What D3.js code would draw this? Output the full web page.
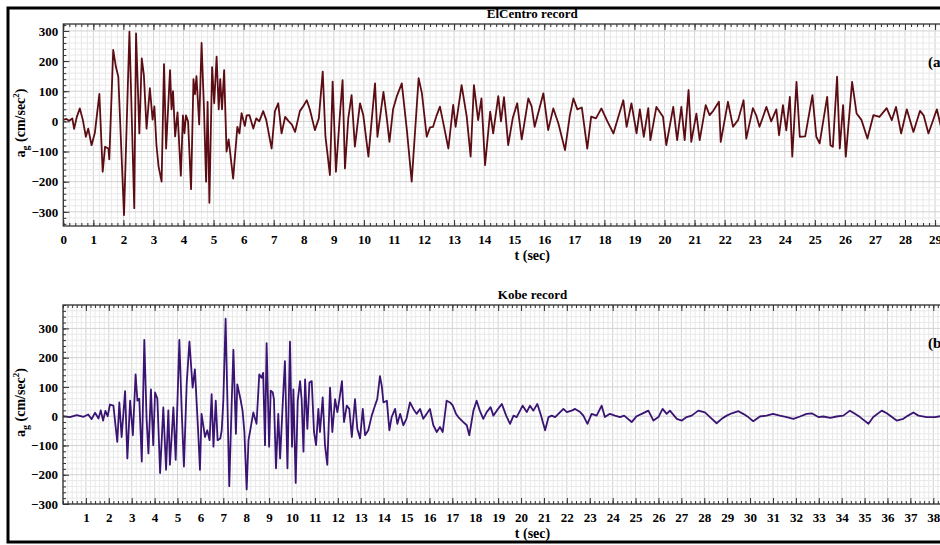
<!DOCTYPE html>
<html>
<head>
<meta charset="utf-8">
<script src="https://cdn.jsdelivr.net/npm/d3@7"></script>
<style>
    body { margin: 0; background: #fff; }
    text { font-family: "Liberation Serif", "Times New Roman", serif; font-weight: bold; fill: #000; }
</style>
</head>
<body>
<div id="chart"></div>
<script>
// ElCentro record: time (s) and ground acceleration (cm/sec^2)
const elcentroTime = [0, 0.1, 0.2, 0.3, 0.36, 0.45, 0.55, 0.65, 0.75, 0.83, 0.94, 1.05, 1.2, 1.31, 1.39, 1.5, 1.53, 1.66, 1.75, 1.83,
    2.02, 2.2, 2.36, 2.42, 2.53, 2.61, 2.68, 2.77, 2.88, 2.97, 3.03, 3.1, 3.17, 3.27, 3.35, 3.42, 3.55, 3.6, 3.65, 3.72,
    3.8, 3.91, 3.98, 4.03, 4.08, 4.15, 4.25, 4.33, 4.38, 4.43, 4.52, 4.6, 4.68, 4.75, 4.8, 4.86, 4.95, 5.02, 5.1, 5.17,
    5.22, 5.28, 5.35, 5.43, 5.5, 5.57, 5.65, 5.79, 5.86, 5.93, 6.04, 6.1, 6.19, 6.32, 6.42, 6.52, 6.65, 6.75, 6.93, 7.04,
    7.15, 7.26, 7.38, 7.5, 7.6, 7.71, 7.87, 7.98, 8.1, 8.2, 8.37, 8.5, 8.63, 8.72, 8.87, 8.96, 9.07, 9.2, 9.29, 9.37,
    9.48, 9.59, 9.7, 9.87, 9.98, 10.15, 10.37, 10.45, 10.65, 10.75, 10.85, 10.97, 11.09, 11.26, 11.43, 11.59, 11.82, 11.93, 12.09, 12.2,
    12.3, 12.42, 12.53, 12.65, 12.81, 12.97, 13.05, 13.25, 13.42, 13.55, 13.66, 13.8, 13.91, 14.03, 14.2, 14.3, 14.47, 14.56, 14.66, 14.8,
    14.95, 15.1, 15.25, 15.38, 15.47, 15.58, 15.68, 15.97, 16.13, 16.3, 16.47, 16.69, 16.85, 16.97, 17.1, 17.25, 17.43, 17.56, 17.72, 17.9,
    18.1, 18.3, 18.45, 18.63, 18.74, 18.9, 19.07, 19.18, 19.31, 19.46, 19.53, 19.73, 19.95, 20.06, 20.29, 20.42, 20.56, 20.67, 20.8, 20.89,
    21.06, 21.17, 21.37, 21.5, 21.62, 21.81, 21.87, 22.11, 22.28, 22.45, 22.63, 22.72, 22.94, 23.05, 23.16, 23.39, 23.55, 23.72, 23.81, 23.94,
    24.05, 24.17, 24.25, 24.39, 24.5, 24.68, 24.92, 25.05, 25.16, 25.41, 25.52, 25.6, 25.74, 25.83, 25.94, 26.03, 26.24, 26.39, 26.55, 26.75,
    26.95, 27.15, 27.39, 27.56, 27.7, 27.87, 28.06, 28.28, 28.5, 28.62, 28.78, 29.06, 29.2, 29.35];
const elcentroAccel = [5, 8, 2, 10, -25, 15, 43, 5, -51, -24, -79, -38, 91, -167, -84, -90, -126, 237, 181, 148,
    -311, 298, -288, 292, -40, 209, 154, -24, 110, 6, 50, -80, -150, -200, 190, -90, 170, 40, 100, -50,
    30, -180, 20, -40, 20, 0, -225, 140, 90, 150, -10, 260, 40, -200, 65, -270, 180, 60, 215, 40,
    140, 40, 170, -100, -60, -120, -190, -18, -40, 27, -15, 20, 21, -24, 10, 0, 34, 5, -90, 34,
    60, -40, 15, 0, -10, -35, 34, 50, 70, 40, -29, 10, 165, -50, -178, 132, -167, 20, 137, -156,
    10, 87, -84, 60, 20, -117, 126, -51, 98, 20, -68, 40, 82, 126, -30, -200, 143, 93, -51, -20,
    -18, 20, 49, -10, -90, 55, -18, 120, 16, -117, 120, 4, 76, -145, 32, -40, 84, 0, 80, -79,
    10, 60, -60, 20, 76, 50, -18, 93, -29, 43, -7, -95, 20, 76, 40, 46, -90, 16, 10, 43,
    0, -40, 10, 70, -18, 60, -40, 40, -51, 44, -62, 48, 15, -79, 48, -62, 48, -62, 104, -68,
    26, -62, 54, 21, 35, 65, -68, 65, -18, 5, 70, -57, 44, 20, -18, 48, 0, 40, -46, 54,
    -30, 81, -117, 131, -51, -50, 87, -51, -73, 81, -79, -84, 148, -90, 54, -117, 131, 26, 5, -57,
    21, 15, 44, 4, 48, -40, 40, -35, 35, 20, -40, 40, -20, 10];

// Kobe record: time (s) and ground acceleration (cm/sec^2)
const kobeTime = [0, 0.3, 0.6, 0.9, 1.1, 1.25, 1.4, 1.55, 1.65, 1.75, 1.85, 1.95, 2.05, 2.2, 2.37, 2.46, 2.56, 2.71, 2.81, 2.93,
    3.05, 3.17, 3.25, 3.33, 3.44, 3.55, 3.65, 3.73, 3.84, 3.94, 4.02, 4.12, 4.24, 4.38, 4.5, 4.6, 4.67, 4.82, 4.92, 5.08,
    5.18, 5.28, 5.4, 5.52, 5.66, 5.76, 5.9, 5.98, 6.05, 6.2, 6.3, 6.4, 6.49, 6.57, 6.67, 6.75, 6.87, 6.93, 7.0, 7.1,
    7.26, 7.36, 7.44, 7.55, 7.61, 7.75, 7.84, 7.92, 8.02, 8.1, 8.2, 8.31, 8.45, 8.57, 8.67, 8.74, 8.82, 8.89, 9.0, 9.07,
    9.16, 9.21, 9.3, 9.4, 9.48, 9.6, 9.69, 9.8, 9.91, 10.0, 10.06, 10.16, 10.25, 10.35, 10.42, 10.5, 10.57, 10.67, 10.76, 10.86,
    10.96, 11.05, 11.15, 11.22, 11.34, 11.44, 11.54, 11.66, 11.76, 11.88, 11.98, 12.07, 12.18, 12.27, 12.39, 12.5, 12.61, 12.75, 12.85, 12.97,
    13.09, 13.19, 13.33, 13.48, 13.62, 13.72, 13.84, 13.92, 13.99, 14.14, 14.25, 14.35, 14.5, 14.6, 14.72, 14.86, 15.0, 15.15, 15.3, 15.44,
    15.59, 15.73, 15.88, 16.02, 16.17, 16.32, 16.46, 16.58, 16.75, 16.9, 17.02, 17.16, 17.26, 17.48, 17.63, 17.74, 17.92, 18.06, 18.2, 18.35,
    18.5, 18.67, 18.79, 18.94, 19.16, 19.35, 19.52, 19.67, 19.81, 20.07, 20.25, 20.39, 20.54, 20.71, 20.85, 21.05, 21.2, 21.34, 21.49, 21.63,
    21.85, 22.0, 22.21, 22.36, 22.58, 22.72, 22.9, 23.08, 23.3, 23.52, 23.66, 23.88, 24.1, 24.32, 24.5, 24.83, 25.05, 25.27, 25.56, 25.78,
    26.0, 26.18, 26.36, 26.5, 26.8, 27.02, 27.23, 27.45, 27.74, 28.03, 28.25, 28.54, 28.76, 28.98, 29.2, 29.49, 29.7, 29.92, 30.14, 30.43,
    30.72, 31.0, 31.3, 31.6, 31.89, 32.18, 32.47, 32.69, 32.98, 33.2, 33.5, 33.78, 34.07, 34.36, 34.58, 34.8, 35.17, 35.38, 35.75, 35.97,
    36.4, 36.69, 36.9, 37.13, 37.35, 37.71, 38.08, 38.3, 38.6];
const kobeAccel = [0, -3, 4, -2, 6, -10, 12, -8, 20, -15, 18, 0, 40, 36, -88, 47, -71, 86, -144, 53,
    -65, 143, 53, 60, -155, 261, -9, -127, 92, -99, 81, 60, -194, 30, -183, 20, -166, 30, -149, 261,
    25, -172, 110, 255, 98, 160, -50, -183, 8, -71, -48, -82, 75, -104, 53, -82, -76, -48, 53, 333,
    -239, 30, 227, -60, 109, 58, 19, -54, -250, -82, -37, 13, -26, 143, 131, 148, -99, 250, -104, 87,
    81, 58, -178, 8, -144, 53, 188, -178, 255, -104, 92, -228, 53, 120, 58, -121, 126, -43, 115, 120,
    -54, -99, 25, -54, 64, -99, -166, 98, -54, 58, 14, 58, 120, -20, 36, 25, -71, 58, -43, -76,
    25, -65, -48, 2, 36, 58, 137, 103, 47, 53, -48, -3, 25, -26, 8, -31, -8, 47, 25, 8,
    25, -9, 8, 25, -31, -54, -37, -54, 53, 47, 36, 8, -3, -20, -31, -65, 19, 53, 19, -9,
    14, 31, 2, 19, 42, 2, -26, 2, -3, 36, 14, 36, 19, 42, 8, -48, -3, 2, -3, 8,
    25, 14, 19, 25, 14, 2, -26, 8, 2, 36, -3, 8, 2, -3, 2, -20, 0, 8, 19, -15,
    -3, 25, 8, 19, -9, -15, -3, 2, 19, 13, -3, -24, -9, 2, 10, 17, 8, -3, -17, -1,
    2, 8, 2, -3, -9, -1, 8, 10, -3, -1, -6, -1, 2, 19, 8, -3, -26, -3, 19, 10,
    -15, -9, 2, 13, 2, -3, -3, 0, 2];

// axis values
const elcentroXTicks = d3.range(0, 32);
const kobeXTicks = d3.range(1, 42);
const elcentroYTicks = [-300, -200, -100, 0, 100, 200, 300];
const kobeYTicks = [-300, -200, -100, 0, 100, 200, 300];

const width = 940;
const height = 545;
const svg = d3.select("#chart").append("svg")
    .attr("width", width)
    .attr("height", height);

drawPanel({
    id: "elcentro",
    title: "ElCentro record",
    tag: "(a)",
    time: elcentroTime,
    accel: elcentroAccel,
    xDomain: [0, 31.2],
    yDomain: [-347, 323],
    xTicks: elcentroXTicks,
    yTicks: elcentroYTicks,
    left: 63.3, right: 1001.2, top: 24, bottom: 226,
    color: "#5c0d14"
});

drawPanel({
    id: "kobe",
    title: "Kobe record",
    tag: "(b)",
    time: kobeTime,
    accel: kobeAccel,
    xDomain: [0, 41],
    yDomain: [-300, 380],
    xTicks: kobeXTicks,
    yTicks: kobeYTicks,
    left: 63, right: 1002, top: 305, bottom: 504,
    color: "#3a1472"
});

// frame round the whole figure (right side falls outside the picture)
svg.append("rect")
    .attr("x", 8)
    .attr("y", 8)
    .attr("width", 1000)
    .attr("height", 534)
    .attr("fill", "none")
    .attr("stroke", "#000")
    .attr("stroke-width", 3);

function drawPanel(p) {
    const x = d3.scaleLinear().domain(p.xDomain).range([p.left, p.right]);
    const y = d3.scaleLinear().domain(p.yDomain).range([p.bottom, p.top]);
    const g = svg.append("g").attr("id", p.id);

    const xMinor = x.ticks(160);
    const yMinor = y.ticks(34);

    // grid
    const grid = g.append("g").attr("class", "grid");
    grid.selectAll(".vx")
        .data(xMinor)
        .enter()
        .append("line")
        .attr("x1", d => x(d))
        .attr("x2", d => x(d))
        .attr("y1", p.top)
        .attr("y2", p.bottom)
        .attr("stroke", d => Math.abs(d - Math.round(d)) < 1e-6 ? "#d2d2d2" : "#e9e9e9")
        .attr("stroke-width", 1);
    grid.selectAll(".hy")
        .data(yMinor)
        .enter()
        .append("line")
        .attr("x1", p.left)
        .attr("x2", p.right)
        .attr("y1", d => y(d))
        .attr("y2", d => y(d))
        .attr("stroke", d => d % 100 === 0 ? "#d2d2d2" : "#e9e9e9")
        .attr("stroke-width", 1);

    // signal
    const clipId = "clip-" + p.id;
    g.append("clipPath").attr("id", clipId)
        .append("rect")
        .attr("x", p.left)
        .attr("y", p.top)
        .attr("width", p.right - p.left)
        .attr("height", p.bottom - p.top);

    const points = d3.zip(p.time, p.accel);
    const line = d3.line()
        .x(d => x(d[0]))
        .y(d => y(d[1]));

    g.append("path")
        .datum(points)
        .attr("clip-path", "url(#" + clipId + ")")
        .attr("d", line)
        .attr("fill", "none")
        .attr("stroke", p.color)
        .attr("stroke-width", 1.8)
        .attr("stroke-linejoin", "round");

    // ticks pointing inwards
    const axisColor = "#333";
    const minorX = (ax) => ax.tickValues(xMinor).tickSizeInner(-3).tickSizeOuter(0).tickFormat("");

    g.append("g").attr("transform", "translate(0," + p.bottom + ")")
        .call(minorX(d3.axisBottom(x)));
    g.append("g").attr("transform", "translate(0," + p.top + ")")
        .call(minorX(d3.axisTop(x)));
    g.append("g").attr("transform", "translate(0," + p.top + ")")
        .call(d3.axisTop(x).tickValues(p.xTicks).tickSizeInner(-6).tickSizeOuter(0).tickFormat(""));

    g.append("g").attr("class", "xlabels")
        .attr("transform", "translate(0," + p.bottom + ")")
        .call(d3.axisBottom(x).tickValues(p.xTicks).tickSizeInner(-6).tickSizeOuter(0).tickPadding(9).tickFormat(d3.format("d")));

    g.append("g").attr("transform", "translate(" + p.left + ",0)")
        .call(d3.axisLeft(y).tickValues(yMinor).tickSizeInner(-3).tickSizeOuter(0).tickFormat(""));
    g.append("g").attr("class", "ylabels")
        .attr("transform", "translate(" + p.left + ",0)")
        .call(d3.axisLeft(y).tickValues(p.yTicks).tickSizeInner(-6).tickSizeOuter(0).tickPadding(5).tickFormat(d3.format("d")));

    g.selectAll(".domain").remove();
    g.selectAll(".tick line").attr("stroke", axisColor).attr("stroke-width", 1);
    g.selectAll(".tick text")
        .attr("font-family", "Liberation Serif")
        .attr("font-weight", "bold")
        .attr("font-size", 13)
        .attr("fill", "#000");

    // plot frame
    g.append("rect")
        .attr("x", p.left)
        .attr("y", p.top)
        .attr("width", p.right - p.left)
        .attr("height", p.bottom - p.top)
        .attr("fill", "none")
        .attr("stroke", axisColor)
        .attr("stroke-width", 1.3);

    const mid = (p.left + p.right) / 2;

    g.append("text")
        .text(p.title)
        .attr("x", mid)
        .attr("y", p.top - 6)
        .attr("text-anchor", "middle")
        .attr("font-size", 13);

    g.append("text")
        .text("t (sec)")
        .attr("x", mid)
        .attr("y", p.bottom + 34)
        .attr("text-anchor", "middle")
        .attr("font-size", 14);

    g.append("text")
        .text(p.tag)
        .attr("x", 928)
        .attr("y", p.top + 43)
        .attr("font-size", 15);

    // y axis title: a_g (cm/sec^2)
    const yt = g.append("text")
        .attr("transform", "translate(25," + ((p.top + p.bottom) / 2 - 2) + ") rotate(-90)")
        .attr("text-anchor", "middle")
        .attr("font-size", 14);
    yt.append("tspan").text("a");
    yt.append("tspan").text("g").attr("font-size", 10).attr("dy", 4);
    yt.append("tspan").text(" (cm/sec").attr("dy", -4);
    yt.append("tspan").text("2").attr("font-size", 9).attr("dy", -6);
    yt.append("tspan").text(")").attr("dy", 6);
}
</script>
</body>
</html>
